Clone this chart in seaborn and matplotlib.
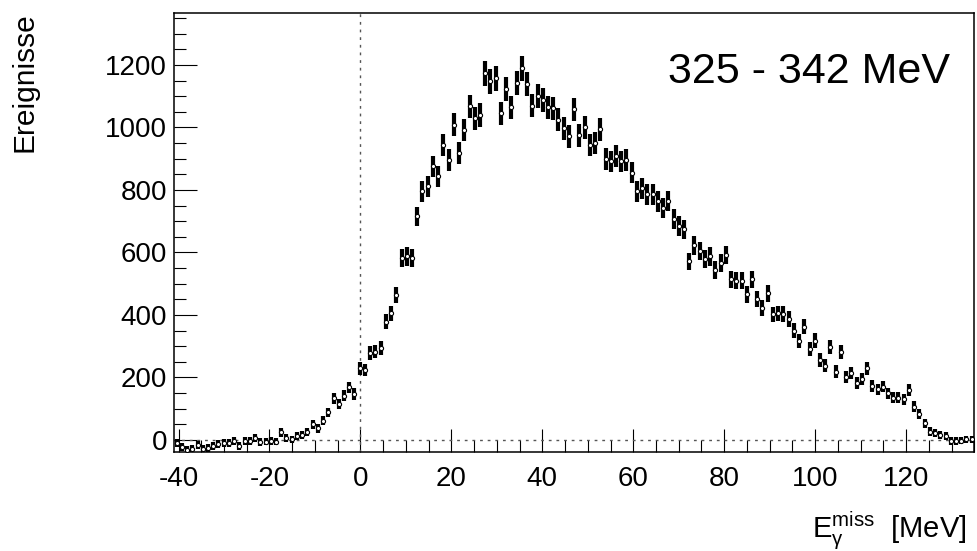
import numpy as np
import pandas as pd
import matplotlib
matplotlib.use("Agg")
import matplotlib.pyplot as plt
import seaborn as sns
from matplotlib.ticker import MultipleLocator

# ---- data ----
x_lo, x_hi = -41.0, 135.0          # histogram range [MeV]
counts = [
    -10, -23, -32, -29, -16, -29, -25, -19, -13, -10,
    -10, -3, -19, -3, -3, 7, -7, -5, -3, -5,
    24, 7, 2, 13, 15, 26, 50, 37, 62, 88,
    133, 115, 141, 168, 147, 229, 224, 278, 283, 293,
    379, 405, 464, 581, 587, 581, 715, 795, 811, 875,
    843, 944, 896, 1008, 917, 992, 1067, 1029, 1040, 1173,
    1147, 1157, 1045, 1122, 1064, 1143, 1189, 1139, 1070, 1101,
    1088, 1064, 1061, 1024, 997, 971, 1058, 975, 1001, 944,
    951, 994, 898, 891, 909, 891, 896, 855, 795, 805,
    786, 786, 763, 743, 765, 706, 685, 674, 571, 623,
    605, 579, 587, 544, 565, 592, 514, 510, 509, 466,
    514, 451, 421, 469, 402, 405, 403, 387, 350, 317,
    363, 290, 318, 256, 237, 297, 219, 281, 201, 215,
    181, 194, 229, 173, 162, 171, 149, 135, 135, 130,
    160, 107, 83, 53, 27, 21, 16, 13, -3, -3,
    -2, 2, 2,
]
y_ticks = [0, 200, 400, 600, 800, 1000, 1200]
x_ticks = [-40, -20, 0, 20, 40, 60, 80, 100, 120]
title_text = "325 - 342 MeV"
y_title = "Ereignisse"
x_title = r"$\mathregular{E_{γ}^{miss}}$  [MeV]"

n_bins = len(counts)
edges = np.linspace(x_lo, x_hi, n_bins + 1)
df = pd.DataFrame({
    "E": 0.5 * (edges[:-1] + edges[1:]),
    "N": np.array(counts, dtype=float),
})
df["err"] = np.sqrt(1.2 * np.abs(df["N"]) + 140.0)   # statistical uncertainty

# ---- style ----
sns.set_theme(style="ticks")
plt.rcParams["font.family"] = ["Liberation Sans", "DejaVu Sans"]
plt.rcParams["axes.unicode_minus"] = False
plt.rcParams["mathtext.fontset"] = "custom"
plt.rcParams["mathtext.rm"] = "Liberation Sans"
plt.rcParams["mathtext.it"] = "Liberation Sans"
plt.rcParams["mathtext.bf"] = "Liberation Sans:bold"

W, H = 978, 551
fig = plt.figure(figsize=(W / 100, H / 100), dpi=100)
ax = fig.add_axes([174 / W, 1 - 451.7 / H, (974.3 - 174) / W, (451.7 - 13) / H])

# reference lines
dot = (0, (2.0, 3.5))
ax.axvline(0, color="#555555", lw=1.0, ls=dot, zorder=1)
ax.axhline(0, color="#555555", lw=1.0, ls=dot, zorder=1)

# error bars and markers
ax.errorbar(df["E"], df["N"], yerr=df["err"], fmt="none", ecolor="black",
            elinewidth=3.0, capsize=0, zorder=3)
sns.scatterplot(data=df, x="E", y="N", ax=ax, marker="o", s=9,
                color="white", edgecolor="black", linewidth=0.8, zorder=4,
                legend=False)

ax.set_xlim(x_lo, x_hi)
ax.set_ylim(-37.5, 1366)
ax.set_xticks(x_ticks)
ax.set_yticks(y_ticks)
ax.xaxis.set_minor_locator(MultipleLocator(5))
ax.yaxis.set_minor_locator(MultipleLocator(50))
ax.tick_params(which="major", direction="in", length=16.5, width=0.8,
               color="black", labelsize=20, labelcolor="black")
ax.tick_params(which="minor", direction="in", length=8.5, width=0.8, color="black")
ax.tick_params(axis="x", which="major", pad=10)
ax.tick_params(axis="y", which="major", pad=5)
ax.tick_params(top=False, right=False, which="both")
for s in ax.spines.values():
    s.set_color("black")
    s.set_linewidth(1.1)
ax.set_xlabel("")
ax.set_ylabel("")

fig.text(950 / W, 1 - 83 / H, title_text, ha="right", va="baseline",
         fontsize=31, color="black")
fig.text(25 / W, 1 - 12 / H, y_title, rotation=90, ha="center", va="top",
         fontsize=21.5, color="black")
fig.text(967 / W, 1 - 538 / H, x_title, ha="right", va="baseline",
         fontsize=21, color="black")

fig.savefig("out.png", dpi=100, facecolor="white")
